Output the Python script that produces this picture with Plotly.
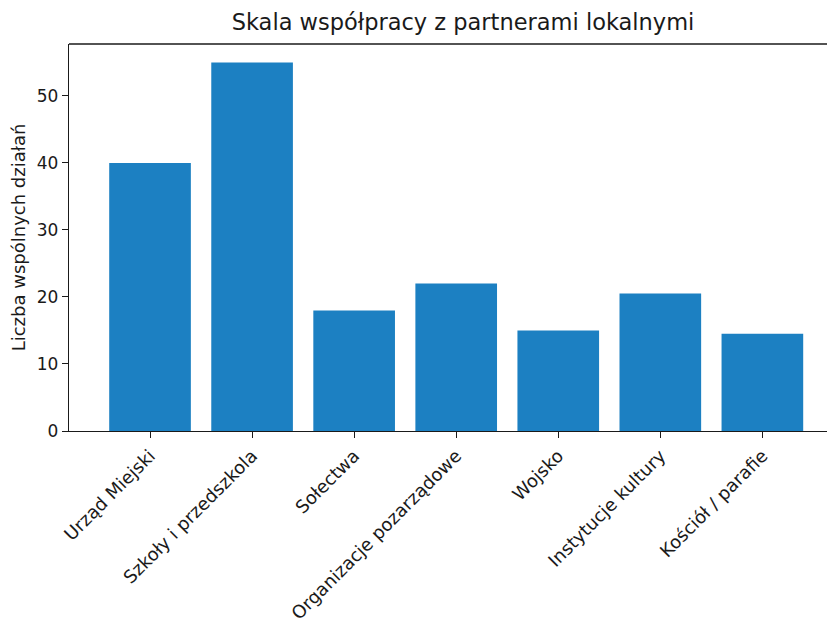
import plotly.graph_objects as go

categories = ["Urząd Miejski", "Szkoły i przedszkola", "Sołectwa",
              "Organizacje pozarządowe", "Wojsko", "Instytucje kultury",
              "Kościół / parafie"]
values = [40, 55, 18, 22, 15, 20.5, 14.5]

title_text = "Skala współpracy z partnerami lokalnymi"
y_title = "Liczba wspólnych działań"
y_ticks = [0, 10, 20, 30, 40, 50]

fig = go.Figure()
fig.add_trace(go.Bar(
    x=list(range(len(categories))),
    y=values,
    width=0.8,
    marker=dict(color="#1c80c2", line=dict(width=0)),
))

font_family = "DejaVu Sans, sans-serif"
txt = "#1a1a1a"

# the page body adds an 8px offset; margins compensate for it
fig.update_layout(
    width=835, height=620,
    margin=dict(l=61, r=0, t=36, b=197, autoexpand=False),
    paper_bgcolor="white", plot_bgcolor="white",
    showlegend=False,
    font=dict(family=font_family, size=17, color=txt),
    title=dict(text=title_text, x=455 / 835, xref="container", xanchor="center",
               y=1 - 14 / 620, yref="container", yanchor="middle", automargin=False,
               font=dict(size=22.5, family=font_family, color=txt)),
)

fig.update_xaxes(
    range=[-0.794, 6.79],
    tickmode="array",
    tickvals=list(range(len(categories))),
    ticktext=categories,
    tickangle=-45,
    ticks="outside", ticklen=6, tickwidth=1.3, tickcolor=txt,
    showline=True, linecolor=txt, linewidth=1.4,
    showgrid=False, zeroline=False, automargin=False,
    tickfont=dict(size=18, family=font_family, color=txt),
)

fig.update_yaxes(
    range=[0, 57.75],
    tickmode="array",
    tickvals=y_ticks,
    ticks="outside", ticklen=6, tickwidth=1.3, tickcolor=txt,
    showline=True, linecolor=txt, linewidth=1.4,
    showgrid=False, zeroline=False, automargin=False,
    title=dict(text=y_title, font=dict(size=18, family=font_family, color=txt), standoff=9),
    tickfont=dict(size=17, family=font_family, color=txt),
)

# top spine (right spine falls outside the visible window, as in the reference)
fig.add_shape(type="line", xref="paper", yref="paper", x0=0, x1=1, y0=1, y1=1,
              line=dict(color=txt, width=1.4))

fig.write_html("out.html")
